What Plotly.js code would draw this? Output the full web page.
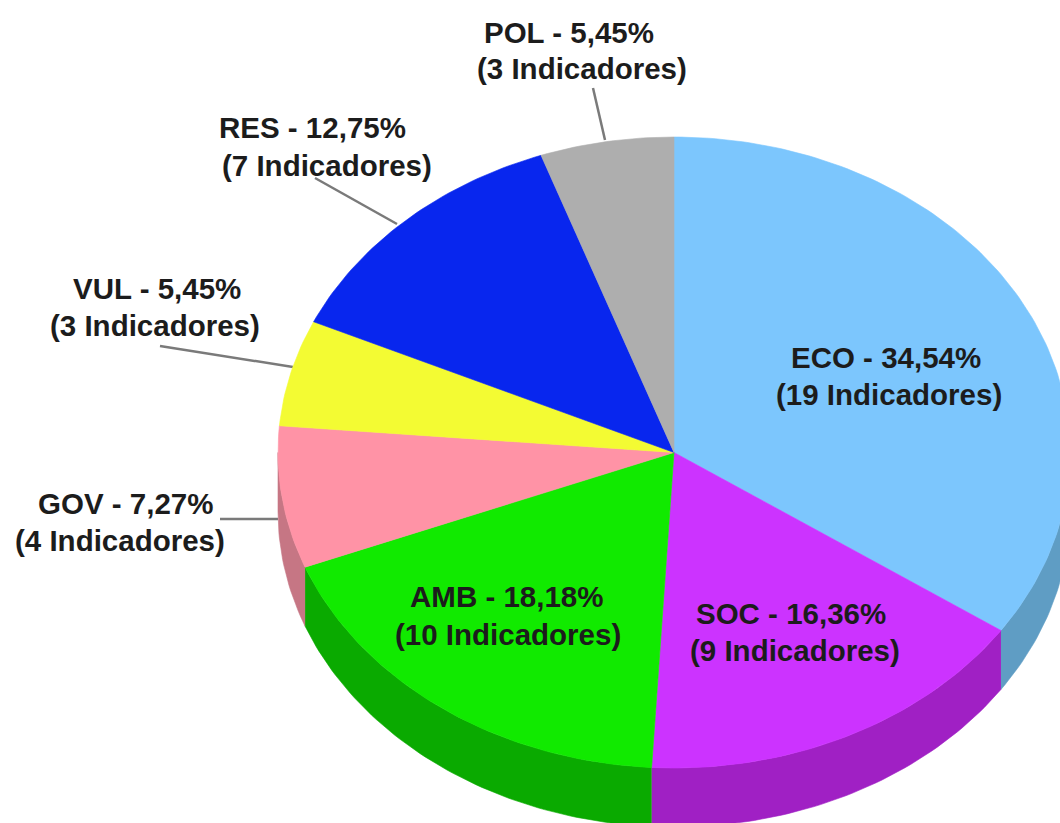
<!DOCTYPE html>
<html>
<head>
<meta charset="utf-8">
<script src="https://cdn.plot.ly/plotly-3.0.1.min.js"></script>
<style>html,body{margin:0;padding:0;background:#fff;overflow:hidden}#chart{width:1060px;height:823px}</style>
</head>
<body>
<div id="chart"></div>
<script>
// Data, in drawing order (clockwise from 12 o'clock)
var categories = ["ECO", "SOC", "AMB", "GOV", "VUL", "RES", "POL"];
var shares = [34.54, 16.36, 18.18, 7.27, 5.45, 12.75, 5.45];
var indicators = [19, 9, 10, 4, 3, 7, 3];
var topColors = ["#7cc6fd", "#cc33ff", "#11ea00", "#ff93a6", "#f3fb33", "#0826ee", "#aeaeae"];
var rimColors = ["#5f9dc4", "#a020c4", "#0aaa00", "#c67684", "#c4cb28", "#0820c8", "#8c8c8c"];
// Label anchors: [x, y] of the first and second line of each label
var line1Pos = [[886,357],[791,613],[506,596],[125,503],[157,288],[312,127],[569,32]];
var line2Pos = [[889,394],[795,650],[508,634],[120,540],[155,325],[327,165],[582,68]];
// Leader lines [x0,y0,x1,y1]
var leaders = [[220,519,278,519],[160,346,293,367],[315,178,397,224],[593,88,605,140]];

// Pie geometry
var cx = 674, cy = 452.5, rx = 396, ry = 315.5, depth = 59;

function pt(deg, off) {
  var a = deg * Math.PI / 180;
  return [cx + rx * Math.sin(a), cy - ry * Math.cos(a) + (off || 0)];
}
function arc(a0, a1, off) {
  var n = Math.max(2, Math.ceil(Math.abs(a1 - a0))), out = [];
  for (var i = 0; i <= n; i++) out.push(pt(a0 + (a1 - a0) * i / n, off));
  return out;
}
function polyTrace(points, color, name) {
  return {
    type: "scatter", mode: "lines", fill: "toself", fillcolor: color, name: name,
    x: points.map(function (p) { return p[0]; }),
    y: points.map(function (p) { return p[1]; }),
    line: { color: color, width: 0.6 }, hoverinfo: "name", showlegend: false
  };
}

var total = shares.reduce(function (a, b) { return a + b; }, 0);
var rims = [], tops = [], annotations = [], start = 0;
categories.forEach(function (c, i) {
  var end = start + shares[i] / total * 360;
  // visible side wall: only the front half of the pie
  var r0 = Math.max(start, 90), r1 = Math.min(end, 270);
  if (r1 > r0) {
    rims.push(polyTrace(arc(r0, r1, 0).concat(arc(r1, r0, depth)), rimColors[i], c));
  }
  tops.push(polyTrace([[cx, cy]].concat(arc(start, end, 0)).concat([[cx, cy]]), topColors[i], c));
  start = end;

  var font = { family: "Liberation Sans, Arial, sans-serif", size: 29.5, color: "#1c1c1c" };
  annotations.push({ xref: "x", yref: "y", x: line1Pos[i][0], y: line1Pos[i][1], showarrow: false, font: font,
    text: "<b>" + c + " - " + shares[i].toFixed(2).replace(".", ",") + "%</b>" });
  annotations.push({ xref: "x", yref: "y", x: line2Pos[i][0], y: line2Pos[i][1], showarrow: false, font: font,
    text: "<b>(" + indicators[i] + " Indicadores)</b>" });
});

var shapes = leaders.map(function (l) {
  return { type: "line", xref: "x", yref: "y", x0: l[0], y0: l[1], x1: l[2], y1: l[3],
    line: { color: "#7a7a7a", width: 2.5 }, layer: "below" };
});

var hidden = { visible: false, fixedrange: true };
Plotly.newPlot("chart", rims.concat(tops), {
  width: 1060, height: 823,
  margin: { l: 0, r: 0, t: 0, b: 0 },
  paper_bgcolor: "#ffffff", plot_bgcolor: "#ffffff",
  showlegend: false,
  xaxis: Object.assign({ range: [0, 1060] }, hidden),
  yaxis: Object.assign({ range: [823, 0] }, hidden),
  shapes: shapes,
  annotations: annotations
}, { displayModeBar: false, staticPlot: true });
</script>
</body>
</html>
